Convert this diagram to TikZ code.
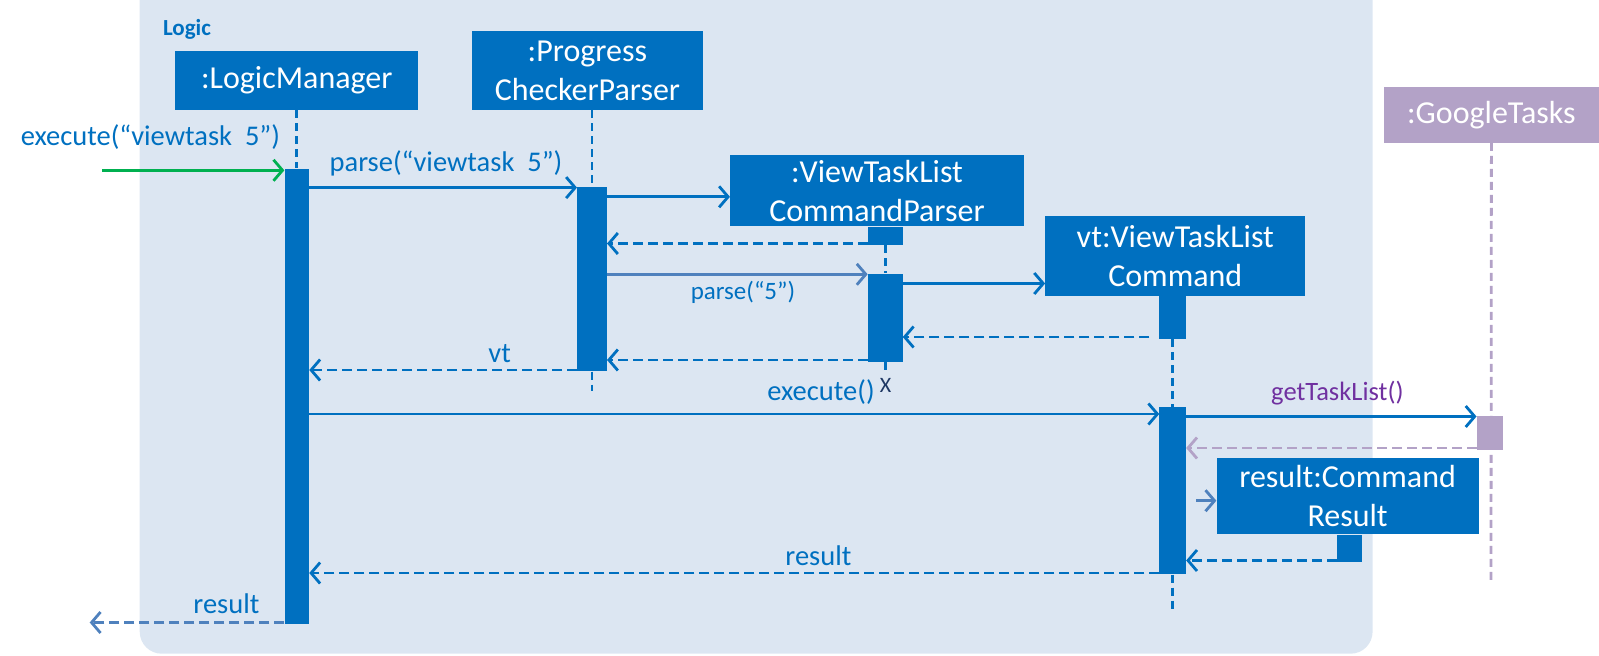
\documentclass[tikz,border=0pt]{standalone}
\usepackage{fontspec}
\setmainfont{Carlito}
\usetikzlibrary{arrows.meta}
\definecolor{boxblue}{HTML}{0070C0}
\definecolor{bgblue}{HTML}{DCE6F2}
\definecolor{gtpurple}{HTML}{B3A2C7}
\definecolor{txtpurple}{HTML}{7030A0}
\definecolor{arrgreen}{HTML}{00B050}
\definecolor{slate}{HTML}{4F81BD}
\definecolor{navy}{HTML}{1F3864}
\begin{document}
\begin{tikzpicture}[x=1pt,y=-1pt,
  obj/.style={rectangle, fill=boxblue, text=white, inner sep=0pt, align=center,
    font=\fontsize{32}{39}\selectfont},
  act/.style={rectangle, fill=boxblue, inner sep=0pt, anchor=north},
  life/.style={draw=boxblue, line width=2.8pt, dash pattern=on 8pt off 5pt},
  msg/.style={draw=boxblue, line width=2.8pt, -{Straight Barb[length=9pt,width=21pt]}},
  ret/.style={msg, dash pattern=on 10pt off 5pt},
  lbl/.style={text=boxblue, inner sep=0pt, font=\fontsize{28.5}{32}\selectfont},
]
\useasboundingbox (0,0) rectangle (1599,656);
\fill[bgblue, rounded corners=22pt] (139.7,-30) rectangle (1372.6,653.7);
\useasboundingbox (0,0) rectangle (1599,656);
\node[text=boxblue, inner sep=0pt, font=\fontsize{23}{26}\selectfont\bfseries] (logic) at (187,29.5) {Logic};

% lifeline end points
\coordinate (pcpend) at (592,390.6);
\coordinate (vtlcpend) at (885.2,372);
\coordinate (vtlcend) at (1172.7,611.9);
\coordinate (gtend) at (1491,581.3);

% object boxes
\node[obj, minimum width=242.7pt, minimum height=59pt] (lm) at (296.8,80.6) {:LogicManager};
\node[obj, minimum width=230.4pt, minimum height=79.5pt] (pcp) at (587.4,70.4) {:Progress\\CheckerParser};
\node[obj, minimum width=293.7pt, minimum height=71.4pt] (vtlcp) at (877,190.7) {:ViewTaskList\\CommandParser};
\node[obj, minimum width=260pt, minimum height=79.5pt] (vtlc) at (1175.3,256) {vt:ViewTaskList\\Command};
\node[obj, fill=gtpurple, minimum width=215.1pt, minimum height=56.1pt] (gt) at (1491.4,114.7) {:GoogleTasks};

% lifelines
\draw[life, draw=gtpurple] (gt.south) -- (gtend);

% activations
\node[act, minimum width=24.5pt, minimum height=455.8pt] (lma) at (296.8,168.3) {};
\node[act, minimum width=29.6pt, minimum height=184.6pt] (pcpa) at (592,186.6) {};
\node[act, minimum width=34.7pt, minimum height=18.4pt] (vtlcpt) at (885.2,226.4) {};
\node[act, minimum width=34.7pt, minimum height=88.7pt] (vtlcpa) at (885.2,273.3) {};
\node[act, minimum width=26.5pt, minimum height=42.9pt] (vtlct) at (1172.7,295.7) {};
\node[act, minimum width=26.5pt, minimum height=167.2pt] (vtlca) at (1172.7,406.9) {};
\node[act, fill=gtpurple, minimum width=26.5pt, minimum height=33.7pt] (gta) at (1490,416) {};

\node[obj, minimum width=262.1pt, minimum height=76.5pt] (res) at (1347.6,496.2) {result:Command\\Result};
\node[act, minimum width=25.4pt, minimum height=27.5pt] (rest) at (1349.7,534.4) {};

\draw[life] (lm.south) -- (lma.north);
\draw[life] (pcpa.north |- pcp.south) -- (pcpa.north);
\draw[life] (pcpa.south) -- (pcpend);
\draw[life] (vtlcpt.south) -- (vtlcpa.north);
\draw[life] (vtlcpa.south) -- (vtlcpend);
\draw[life] (vtlct.south) -- (vtlca.north);
\draw[life] (vtlca.south) -- (vtlcend);
\node[text=navy, inner sep=0pt, font=\fontsize{22}{24}\selectfont] (xmark) at (885.5,385) {X};

% message levels
\coordinate (gstart) at (102,170.3);
\coordinate (y1) at (0,187.6);
\coordinate (y2) at (0,196.8);
\coordinate (y3) at (0,243.5);
\coordinate (y4) at (0,274.3);
\coordinate (y5) at (0,283.5);
\coordinate (r6) at (1149.3,337);
\coordinate (y7) at (0,360);
\coordinate (y8) at (0,370);
\coordinate (y9) at (0,414);
\coordinate (y10) at (0,416.5);
\coordinate (y11) at (0,448);
\coordinate (c12) at (1196.2,500.7);
\coordinate (y13) at (0,560.5);
\coordinate (y14) at (0,573);
\coordinate (c15) at (89.7,622.5);

% messages
\draw[msg, draw=arrgreen] (gstart) -- (lma.west |- gstart);
\draw[msg] (lma.east |- y1) -- (pcpa.west |- y1);
\draw[msg] (pcpa.east |- y2) -- (vtlcp.west |- y2);
\draw[ret] (vtlcpt.west |- y3) -- (pcpa.east |- y3);
\draw[msg, draw=slate] (pcpa.east |- y4) -- (vtlcpa.west |- y4);
\draw[msg] (vtlcpa.east |- y5) -- (vtlc.west |- y5);
\draw[ret] (r6) -- (vtlcpa.east |- r6);
\draw[ret] (vtlcpa.west |- y7) -- (pcpa.east |- y7);
\draw[ret] (pcpa.west |- y8) -- (lma.east |- y8);
\draw[msg] (lma.east |- y9) -- (vtlca.west |- y9);
\draw[msg] (vtlca.east |- y10) -- (gta.west |- y10);
\draw[ret, draw=gtpurple] (gta.west |- y11) -- (vtlca.east |- y11);
\draw[msg, draw=slate] (c12) -- (res.west |- c12);
\draw[ret] (rest.west |- y13) -- (vtlca.east |- y13);
\draw[ret] (vtlca.west |- y14) -- (lma.east |- y14);
\draw[ret, draw=slate] (lma.west |- c15) -- (c15);

% labels
\node[lbl] (lexec) at (150.4,136.6) {execute(“viewtask\ \ 5”)};
\node[lbl] (lparse) at (446,163.2) {parse(“viewtask\ \ 5”)};
\node[lbl, font=\fontsize{25}{28}\selectfont] (lparse5) at (743,292.7) {parse(“5”)};
\node[lbl] (lvt) at (499.7,353.9) {vt};
\node[lbl] (lexec2) at (821,391.6) {execute()};
\node[lbl, text=txtpurple, font=\fontsize{26.5}{30}\selectfont] (lget) at (1337.4,392.6) {getTaskList()};
\node[lbl] (lres) at (818.4,555.8) {result};
\node[lbl] (lres2) at (226.4,603.7) {result};
\end{tikzpicture}
\end{document}
